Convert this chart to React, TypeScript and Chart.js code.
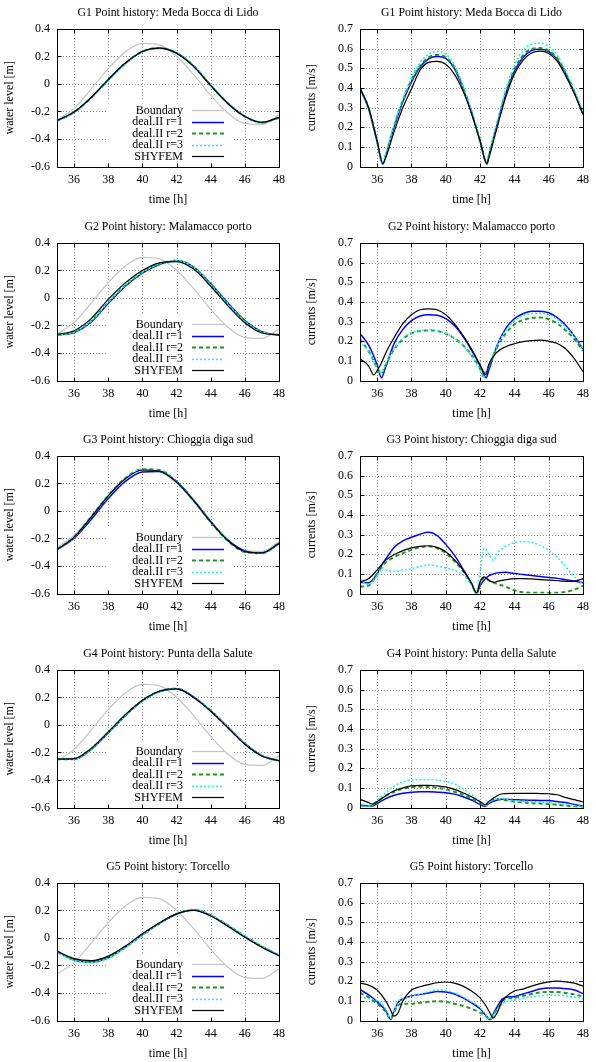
import React, { useEffect, useRef } from 'react';
import { Chart, registerables } from 'chart.js';

Chart.register(...registerables);

const SERIF = '"Liberation Serif", "Times New Roman", Times, serif';
Chart.defaults.font.family = SERIF;
Chart.defaults.color = '#000';

// ---------- axes ----------
const X_TICKS = [36, 38, 40, 42, 44, 46, 48];
const LEVEL_TICKS = [-0.6, -0.4, -0.2, 0, 0.2, 0.4];
const CURRENT_TICKS = [0, 0.1, 0.2, 0.3, 0.4, 0.5, 0.6, 0.7];

// ---------- water level (hourly samples) ----------
const HOURS = [35, 36, 37, 38, 39, 40, 41, 42, 43, 44, 45, 46, 47, 48];
const BOUNDARY = [-0.262, -0.177, -0.037, 0.112, 0.233, 0.295, 0.284, 0.202, 0.068, -0.082, -0.211, -0.288, -0.293, -0.224];

const G1_LEVEL_R1 = [-0.267, -0.205, -0.1, 0.03, 0.15, 0.235, 0.26, 0.225, 0.13, -0.01, -0.14, -0.235, -0.28, -0.245];
const G1_LEVEL_R2 = [-0.268, -0.206, -0.101, 0.029, 0.15, 0.236, 0.261, 0.226, 0.131, -0.009, -0.14, -0.236, -0.281, -0.246];
const G1_LEVEL_R3 = [-0.268, -0.207, -0.102, 0.028, 0.149, 0.235, 0.261, 0.226, 0.131, -0.01, -0.141, -0.236, -0.28, -0.245];
const G1_LEVEL_SHYFEM = [-0.266, -0.204, -0.098, 0.032, 0.152, 0.236, 0.26, 0.224, 0.128, -0.012, -0.142, -0.236, -0.279, -0.243];

const G2_LEVEL_R1 = [-0.27, -0.252, -0.175, -0.04, 0.085, 0.18, 0.243, 0.27, 0.225, 0.105, -0.035, -0.165, -0.245, -0.27];
const G2_LEVEL_R2 = [-0.268, -0.248, -0.168, -0.032, 0.092, 0.186, 0.247, 0.272, 0.222, 0.1, -0.04, -0.168, -0.247, -0.269];
const G2_LEVEL_R3 = [-0.268, -0.247, -0.166, -0.03, 0.094, 0.188, 0.248, 0.272, 0.221, 0.098, -0.042, -0.17, -0.248, -0.269];
const G2_LEVEL_SHYFEM = [-0.265, -0.238, -0.15, -0.01, 0.11, 0.2, 0.255, 0.265, 0.21, 0.085, -0.055, -0.18, -0.255, -0.268];

const G3_LEVEL_R1 = [-0.282, -0.197, -0.062, 0.09, 0.215, 0.283, 0.287, 0.215, 0.08, -0.075, -0.21, -0.29, -0.305, -0.24];
const G3_LEVEL_R2 = [-0.28, -0.189, -0.043, 0.112, 0.238, 0.303, 0.298, 0.213, 0.076, -0.08, -0.217, -0.298, -0.308, -0.237];
const G3_LEVEL_R3 = [-0.28, -0.19, -0.044, 0.111, 0.237, 0.302, 0.296, 0.212, 0.075, -0.08, -0.216, -0.297, -0.307, -0.236];
const G3_LEVEL_SHYFEM = [-0.28, -0.19, -0.045, 0.11, 0.235, 0.298, 0.29, 0.21, 0.075, -0.08, -0.215, -0.295, -0.305, -0.235];

const G4_LEVEL_R1 = [-0.25, -0.25, -0.178, -0.058, 0.068, 0.175, 0.243, 0.263, 0.204, 0.104, -0.015, -0.136, -0.223, -0.261];
const G4_LEVEL_R2 = [-0.249, -0.248, -0.175, -0.055, 0.071, 0.177, 0.244, 0.264, 0.203, 0.103, -0.017, -0.138, -0.224, -0.261];
const G4_LEVEL_R3 = [-0.25, -0.249, -0.176, -0.056, 0.07, 0.177, 0.244, 0.264, 0.204, 0.104, -0.016, -0.137, -0.224, -0.262];
const G4_LEVEL_SHYFEM = [-0.248, -0.245, -0.17, -0.05, 0.075, 0.18, 0.245, 0.262, 0.2, 0.1, -0.02, -0.14, -0.225, -0.26];

const G5_LEVEL_R1 = [-0.1, -0.158, -0.175, -0.142, -0.066, 0.024, 0.106, 0.174, 0.203, 0.164, 0.09, 0.01, -0.064, -0.128];
const G5_LEVEL_R2 = [-0.102, -0.16, -0.177, -0.144, -0.068, 0.022, 0.105, 0.174, 0.205, 0.166, 0.092, 0.012, -0.062, -0.127];
const G5_LEVEL_R3 = [-0.103, -0.162, -0.178, -0.145, -0.069, 0.021, 0.104, 0.174, 0.206, 0.167, 0.093, 0.013, -0.061, -0.126];
const G5_LEVEL_SHYFEM = [-0.095, -0.15, -0.165, -0.132, -0.058, 0.03, 0.11, 0.175, 0.2, 0.16, 0.085, 0.005, -0.068, -0.13];

// ---------- current speed ----------
const G1_CURR_T = [35, 35.5, 36, 36.33, 36.5, 37, 37.5, 38, 38.5, 39, 39.5, 40, 40.5, 41, 41.5, 42, 42.4, 42.5, 43, 43.5, 44, 44.5, 45, 45.5, 46, 46.5, 47, 47.5, 48];
const G1_CURR_R1 = [0.395, 0.295, 0.125, 0.012, 0.055, 0.205, 0.33, 0.43, 0.505, 0.548, 0.56, 0.55, 0.5, 0.4, 0.275, 0.13, 0.012, 0.05, 0.215, 0.37, 0.485, 0.555, 0.59, 0.597, 0.585, 0.545, 0.47, 0.375, 0.268];
const G1_CURR_R2 = [0.398, 0.298, 0.128, 0.015, 0.058, 0.21, 0.338, 0.44, 0.512, 0.555, 0.568, 0.556, 0.505, 0.405, 0.278, 0.132, 0.015, 0.052, 0.22, 0.378, 0.495, 0.565, 0.598, 0.603, 0.59, 0.55, 0.475, 0.38, 0.272];
const G1_CURR_R3 = [0.398, 0.298, 0.128, 0.015, 0.06, 0.215, 0.345, 0.452, 0.53, 0.572, 0.585, 0.572, 0.518, 0.412, 0.282, 0.134, 0.015, 0.055, 0.228, 0.392, 0.515, 0.59, 0.622, 0.628, 0.612, 0.567, 0.485, 0.385, 0.275];
const G1_CURR_SHYFEM = [0.4, 0.3, 0.13, 0.015, 0.045, 0.18, 0.3, 0.395, 0.49, 0.53, 0.535, 0.52, 0.47, 0.385, 0.27, 0.13, 0.015, 0.04, 0.2, 0.355, 0.47, 0.54, 0.578, 0.587, 0.575, 0.535, 0.46, 0.37, 0.265];

const G2_CURR_T = [35, 35.5, 35.8, 36, 36.25, 36.5, 37, 37.5, 38, 38.5, 39, 39.5, 40, 40.5, 41, 41.5, 42, 42.2, 42.35, 42.5, 43, 43.5, 44, 44.5, 45, 45.5, 46, 46.5, 47, 47.5, 48];
const G2_CURR_R1 = [0.24, 0.18, 0.125, 0.08, 0.014, 0.07, 0.19, 0.26, 0.305, 0.328, 0.335, 0.332, 0.315, 0.28, 0.225, 0.155, 0.075, 0.035, 0.014, 0.05, 0.18, 0.265, 0.315, 0.34, 0.352, 0.353, 0.345, 0.32, 0.28, 0.225, 0.16];
const G2_CURR_R2 = [0.21, 0.15, 0.1, 0.06, 0.035, 0.08, 0.16, 0.21, 0.24, 0.252, 0.255, 0.252, 0.238, 0.215, 0.18, 0.13, 0.06, 0.02, 0.04, 0.07, 0.17, 0.24, 0.285, 0.308, 0.318, 0.32, 0.312, 0.29, 0.255, 0.21, 0.15];
const G2_CURR_R3 = [0.2, 0.145, 0.1, 0.065, 0.04, 0.085, 0.165, 0.215, 0.243, 0.255, 0.258, 0.255, 0.24, 0.215, 0.178, 0.125, 0.055, 0.015, 0.04, 0.075, 0.18, 0.255, 0.305, 0.33, 0.34, 0.343, 0.336, 0.312, 0.272, 0.222, 0.165];
const G2_CURR_SHYFEM = [0.11, 0.075, 0.028, 0.05, 0.09, 0.14, 0.22, 0.29, 0.335, 0.36, 0.365, 0.36, 0.335, 0.29, 0.23, 0.16, 0.08, 0.045, 0.03, 0.08, 0.145, 0.172, 0.187, 0.198, 0.203, 0.205, 0.2, 0.188, 0.16, 0.11, 0.045];

const G3_CURR_T = [35, 35.5, 36, 36.3, 36.5, 37, 37.5, 38, 38.5, 39, 39.5, 40, 40.5, 41, 41.5, 41.8, 42, 42.25, 42.5, 42.8, 43, 43.5, 44, 44.5, 45, 45.5, 46, 46.5, 47, 47.5, 48];
const G3_CURR_R1 = [0.056, 0.055, 0.1, 0.15, 0.175, 0.235, 0.268, 0.286, 0.302, 0.312, 0.295, 0.25, 0.195, 0.125, 0.05, 0.0, 0.04, 0.07, 0.09, 0.1, 0.105, 0.108, 0.102, 0.097, 0.092, 0.087, 0.082, 0.077, 0.07, 0.063, 0.055];
const G3_CURR_R2 = [0.035, 0.04, 0.1, 0.14, 0.158, 0.185, 0.205, 0.222, 0.236, 0.24, 0.23, 0.205, 0.165, 0.115, 0.048, 0.0, 0.055, 0.08, 0.068, 0.055, 0.048, 0.035, 0.015, 0.006, 0.004, 0.004, 0.003, 0.004, 0.008, 0.02, 0.04];
const G3_CURR_R3 = [0.075, 0.045, 0.09, 0.13, 0.12, 0.112, 0.12, 0.125, 0.138, 0.145, 0.14, 0.13, 0.118, 0.095, 0.045, 0.0, 0.11, 0.232, 0.2, 0.168, 0.205, 0.24, 0.258, 0.265, 0.26, 0.245, 0.22, 0.185, 0.135, 0.085, 0.045];
const G3_CURR_SHYFEM = [0.06, 0.075, 0.12, 0.15, 0.17, 0.198, 0.218, 0.232, 0.24, 0.243, 0.235, 0.212, 0.172, 0.12, 0.052, 0.003, 0.06, 0.085, 0.068, 0.057, 0.062, 0.07, 0.076, 0.076, 0.074, 0.071, 0.068, 0.065, 0.062, 0.063, 0.075];

const G4_CURR_T = [35, 35.5, 35.75, 36, 36.5, 37, 37.5, 38, 38.5, 39, 39.5, 40, 40.5, 41, 41.5, 42, 42.3, 42.5, 43, 43.3, 44, 44.5, 45, 45.5, 46, 46.5, 47, 47.5, 48];
const G4_CURR_R1 = [0.012, 0.008, 0.008, 0.02, 0.045, 0.062, 0.072, 0.078, 0.08, 0.08, 0.078, 0.075, 0.068, 0.055, 0.038, 0.015, 0.006, 0.02, 0.038, 0.042, 0.04, 0.038, 0.037, 0.036, 0.035, 0.03, 0.025, 0.015, 0.008];
const G4_CURR_R2 = [0.01, 0.008, 0.015, 0.03, 0.06, 0.08, 0.095, 0.103, 0.105, 0.104, 0.1, 0.093, 0.08, 0.065, 0.045, 0.02, 0.01, 0.025, 0.045, 0.04, 0.03, 0.026, 0.022, 0.02, 0.018, 0.014, 0.01, 0.005, 0.003];
const G4_CURR_R3 = [0.005, 0.006, 0.015, 0.035, 0.075, 0.11, 0.13, 0.14, 0.143, 0.143, 0.14, 0.133, 0.12, 0.095, 0.065, 0.03, 0.012, 0.025, 0.045, 0.045, 0.035, 0.032, 0.03, 0.028, 0.025, 0.02, 0.015, 0.01, 0.006];
const G4_CURR_SHYFEM = [0.042, 0.025, 0.017, 0.03, 0.06, 0.085, 0.1, 0.11, 0.113, 0.113, 0.11, 0.105, 0.092, 0.075, 0.055, 0.03, 0.015, 0.03, 0.06, 0.07, 0.072, 0.072, 0.072, 0.071, 0.07, 0.065, 0.05, 0.04, 0.028];

const G5_CURR_T = [35, 35.5, 36, 36.5, 36.8, 36.95, 37.2, 37.5, 38, 38.5, 39, 39.5, 40, 40.5, 41, 41.5, 42, 42.3, 42.6, 42.75, 43, 43.3, 43.5, 44, 44.5, 45, 45.5, 46, 46.5, 47, 47.5, 48];
const G5_CURR_R1 = [0.158, 0.13, 0.095, 0.05, 0.005, 0.04, 0.09, 0.11, 0.125, 0.133, 0.14, 0.147, 0.145, 0.135, 0.115, 0.09, 0.06, 0.03, 0.003, 0.03, 0.07, 0.11, 0.118, 0.122, 0.135, 0.148, 0.16, 0.165, 0.165, 0.162, 0.155, 0.137];
const G5_CURR_R2 = [0.14, 0.118, 0.085, 0.045, 0.008, 0.035, 0.075, 0.085, 0.085, 0.09, 0.095, 0.098, 0.095, 0.085, 0.075, 0.06, 0.04, 0.025, 0.005, 0.025, 0.06, 0.1, 0.11, 0.115, 0.125, 0.135, 0.143, 0.145, 0.145, 0.14, 0.132, 0.122];
const G5_CURR_R3 = [0.12, 0.11, 0.1, 0.06, 0.01, 0.04, 0.095, 0.11, 0.125, 0.135, 0.145, 0.155, 0.152, 0.14, 0.12, 0.095, 0.065, 0.035, 0.005, 0.025, 0.05, 0.085, 0.095, 0.105, 0.112, 0.12, 0.125, 0.128, 0.128, 0.125, 0.118, 0.11];
const G5_CURR_SHYFEM = [0.19, 0.18, 0.155, 0.1, 0.05, 0.022, 0.035, 0.1, 0.155, 0.172, 0.183, 0.192, 0.196, 0.19, 0.175, 0.15, 0.115, 0.08, 0.035, 0.012, 0.04, 0.1, 0.12, 0.15, 0.16, 0.175, 0.188, 0.197, 0.2, 0.197, 0.19, 0.175];

// ---------- stations ----------
const STATIONS = [
  'G1 Point history: Meda Bocca di Lido',
  'G2 Point history: Malamacco porto',
  'G3 Point history: Chioggia diga sud',
  'G4 Point history: Punta della Salute',
  'G5 Point history: Torcello',
];
const LEVELS = [
  [G1_LEVEL_R1, G1_LEVEL_R2, G1_LEVEL_R3, G1_LEVEL_SHYFEM],
  [G2_LEVEL_R1, G2_LEVEL_R2, G2_LEVEL_R3, G2_LEVEL_SHYFEM],
  [G3_LEVEL_R1, G3_LEVEL_R2, G3_LEVEL_R3, G3_LEVEL_SHYFEM],
  [G4_LEVEL_R1, G4_LEVEL_R2, G4_LEVEL_R3, G4_LEVEL_SHYFEM],
  [G5_LEVEL_R1, G5_LEVEL_R2, G5_LEVEL_R3, G5_LEVEL_SHYFEM],
];
const CURRENT_TIMES = [G1_CURR_T, G2_CURR_T, G3_CURR_T, G4_CURR_T, G5_CURR_T];
const CURRENTS = [
  [G1_CURR_R1, G1_CURR_R2, G1_CURR_R3, G1_CURR_SHYFEM],
  [G2_CURR_R1, G2_CURR_R2, G2_CURR_R3, G2_CURR_SHYFEM],
  [G3_CURR_R1, G3_CURR_R2, G3_CURR_R3, G3_CURR_SHYFEM],
  [G4_CURR_R1, G4_CURR_R2, G4_CURR_R3, G4_CURR_SHYFEM],
  [G5_CURR_R1, G5_CURR_R2, G5_CURR_R3, G5_CURR_SHYFEM],
];

// line styles: Boundary, deal.II r=1, r=2, r=3, SHYFEM
const BOUNDARY_STYLE = { label: 'Boundary', color: '#c4c4c4', width: 1.2, dash: [] as number[], order: 5 };
const MODEL_STYLES = [
  { label: 'deal.II r=1', color: '#0000ff', width: 1.5, dash: [] as number[], order: 4 },
  { label: 'deal.II r=2', color: '#1f9a1f', width: 2, dash: [4, 3], order: 3 },
  { label: 'deal.II r=3', color: '#22eeee', width: 1.5, dash: [2, 2], order: 2 },
  { label: 'SHYFEM', color: '#000000', width: 1.2, dash: [] as number[], order: 1 },
];

// ---------- layout ----------
const CELL_W = 298;
const CELL_H = 214;
const ROW_TOPS = [0, 214, 427, 641, 854];
const TITLE_BLOCK = 29;
const PLOT_H = 137.5;
const GRID_COLOR = '#8c8c8c';

type Style = { label: string; color: string; width: number; dash: number[]; order: number };

function makeDataset(style: Style, xs: number[], ys: number[]) {
  return {
    label: style.label,
    data: xs.map((x, i) => ({ x, y: ys[i] })),
    borderColor: style.color,
    borderWidth: style.width,
    borderDash: style.dash,
    order: style.order,
    pointRadius: 0,
    fill: false,
    cubicInterpolationMode: 'monotone' as const,
  };
}

// Dotted grid, opaque key, key entries, plot frame and inward tick marks
const frame = {
  id: 'frame',
  beforeDatasetsDraw(chart: any, _args: any, opts: any) {
    const { ctx, chartArea: a, scales } = chart;
    ctx.save();
    ctx.strokeStyle = GRID_COLOR;
    ctx.lineWidth = 1;
    ctx.setLineDash([1, 2]);
    ctx.beginPath();
    for (const t of scales.x.ticks) {
      const px = Math.round(scales.x.getPixelForValue(t.value)) + 0.5;
      if (px <= a.left + 1 || px >= a.right - 1) continue;
      ctx.moveTo(px, a.top);
      ctx.lineTo(px, a.bottom);
    }
    for (const t of scales.y.ticks) {
      const py = Math.round(scales.y.getPixelForValue(t.value)) + 0.5;
      if (py <= a.top + 1 || py >= a.bottom - 1) continue;
      ctx.moveTo(a.left, py);
      ctx.lineTo(a.right, py);
    }
    ctx.stroke();
    if (opts.legend) {
      ctx.fillStyle = '#ffffff';
      ctx.fillRect(a.left + 50, a.top + 72, 125, a.bottom - a.top - 72);
    }
    ctx.restore();
  },
  afterDatasetsDraw(chart: any, _args: any, opts: any) {
    const { ctx, chartArea: a, scales } = chart;
    ctx.save();
    if (opts.legend) {
      ctx.font = `12px ${SERIF}`;
      ctx.textAlign = 'right';
      ctx.textBaseline = 'middle';
      chart.data.datasets.forEach((ds: any, i: number) => {
        const y = a.top + 81.5 + i * 11.5;
        ctx.fillStyle = '#000';
        ctx.fillText(ds.label, a.left + 126, y);
        ctx.strokeStyle = ds.borderColor;
        ctx.lineWidth = ds.borderWidth;
        ctx.setLineDash(ds.borderDash || []);
        ctx.beginPath();
        ctx.moveTo(a.left + 135, Math.round(y) + 0.5);
        ctx.lineTo(a.left + 167, Math.round(y) + 0.5);
        ctx.stroke();
      });
    }
    ctx.setLineDash([]);
    ctx.strokeStyle = '#000';
    ctx.lineWidth = 1;
    const l = Math.round(a.left) + 0.5;
    const r = Math.round(a.right) + 0.5;
    const t = Math.round(a.top) + 0.5;
    const b = Math.round(a.bottom) + 0.5;
    ctx.strokeRect(l, t, r - l, b - t);
    ctx.beginPath();
    for (const tk of scales.x.ticks) {
      const px = Math.round(scales.x.getPixelForValue(tk.value)) + 0.5;
      if (px <= l + 1 || px >= r - 1) continue;
      ctx.moveTo(px, b);
      ctx.lineTo(px, b - 4);
      ctx.moveTo(px, t);
      ctx.lineTo(px, t + 4);
    }
    for (const tk of scales.y.ticks) {
      const py = Math.round(scales.y.getPixelForValue(tk.value)) + 0.5;
      if (py <= t + 1 || py >= b - 1) continue;
      ctx.moveTo(l, py);
      ctx.lineTo(l + 4, py);
      ctx.moveTo(r, py);
      ctx.lineTo(r - 4, py);
    }
    ctx.stroke();
    ctx.restore();
  },
};

type PanelProps = {
  left: number;
  top: number;
  title: string;
  yTitle: string;
  datasets: any[];
  yMin: number;
  yMax: number;
  yTicks: number[];
  legend: boolean;
  axisWidth: number;
  padRight: number;
  yTitlePad: number;
};

function Panel(p: PanelProps) {
  const ref = useRef<HTMLCanvasElement | null>(null);
  useEffect(() => {
    if (!ref.current) return;
    const fmtY = (v: number) => (Math.abs(v) < 1e-9 ? '0' : Number(v).toFixed(1));
    const chart = new Chart(ref.current, {
      type: 'line',
      data: { datasets: p.datasets },
      plugins: [frame],
      options: {
        animation: false,
        responsive: false,
        events: [],
        layout: { padding: { left: 0, right: p.padRight, top: 0, bottom: 0 } },
        plugins: {
          legend: { display: false },
          tooltip: { enabled: false },
          title: {
            display: true,
            fullSize: false,
            text: p.title,
            color: '#000',
            font: { family: SERIF, size: 11.8, weight: 'normal' },
            padding: { top: 5.5, bottom: 9.3 },
          },
          frame: { legend: p.legend },
        } as any,
        scales: {
          x: {
            type: 'linear',
            min: 35,
            max: 48,
            afterBuildTicks: (s: any) => {
              s.ticks = X_TICKS.map((v) => ({ value: v }));
            },
            afterFit: (s: any) => {
              s.height = CELL_H - TITLE_BLOCK - PLOT_H;
            },
            grid: { display: false, drawTicks: false },
            border: { display: false },
            ticks: {
              autoSkip: false,
              maxRotation: 0,
              padding: 6.3,
              color: '#000',
              font: { family: SERIF, size: 12 },
              callback: (v: any) => String(v),
            },
            title: {
              display: true,
              text: 'time [h]',
              color: '#000',
              font: { family: SERIF, size: 12 },
              padding: { top: 0, bottom: 7 },
            },
          },
          y: {
            type: 'linear',
            min: p.yMin,
            max: p.yMax,
            afterBuildTicks: (s: any) => {
              s.ticks = p.yTicks.map((v) => ({ value: v }));
            },
            afterFit: (s: any) => {
              s.width = p.axisWidth;
            },
            grid: { display: false, drawTicks: false },
            border: { display: false },
            ticks: {
              autoSkip: false,
              padding: 7,
              color: '#000',
              font: { family: SERIF, size: 12 },
              callback: (v: any) => fmtY(v),
            },
            title: {
              display: true,
              text: p.yTitle,
              color: '#000',
              font: { family: SERIF, size: 12 },
              padding: { top: p.yTitlePad, bottom: 0 },
            },
          },
        },
      } as any,
    });
    return () => chart.destroy();
  }, []);
  return (
    <canvas
      ref={ref}
      width={CELL_W}
      height={CELL_H}
      style={{ position: 'absolute', left: p.left, top: p.top, width: CELL_W, height: CELL_H, display: 'block' }}
    />
  );
}

export default function App() {
  return (
    <div style={{ position: 'absolute', left: 0, top: 0, width: 596, height: 1062, overflow: 'hidden', background: '#fff' }}>
      {STATIONS.map((title, i) => {
        const levelSets = [
          makeDataset(BOUNDARY_STYLE, HOURS, BOUNDARY),
          ...MODEL_STYLES.map((s, k) => makeDataset(s, HOURS, LEVELS[i][k])),
        ];
        const currentSets = MODEL_STYLES.map((s, k) => makeDataset(s, CURRENT_TIMES[i], CURRENTS[i][k]));
        return (
          <React.Fragment key={title}>
            <Panel
              left={0}
              top={ROW_TOPS[i]}
              title={title}
              yTitle="water level [m]"
              datasets={levelSets}
              yMin={-0.6}
              yMax={0.4}
              yTicks={LEVEL_TICKS}
              legend={true}
              axisWidth={57}
              padRight={19}
              yTitlePad={2.8}
            />
            <Panel
              left={CELL_W}
              top={ROW_TOPS[i]}
              title={title}
              yTitle="currents [m/s]"
              datasets={currentSets}
              yMin={0}
              yMax={0.7}
              yTicks={CURRENT_TICKS}
              legend={false}
              axisWidth={62}
              padRight={13}
              yTitlePad={6.8}
            />
          </React.Fragment>
        );
      })}
    </div>
  );
}
